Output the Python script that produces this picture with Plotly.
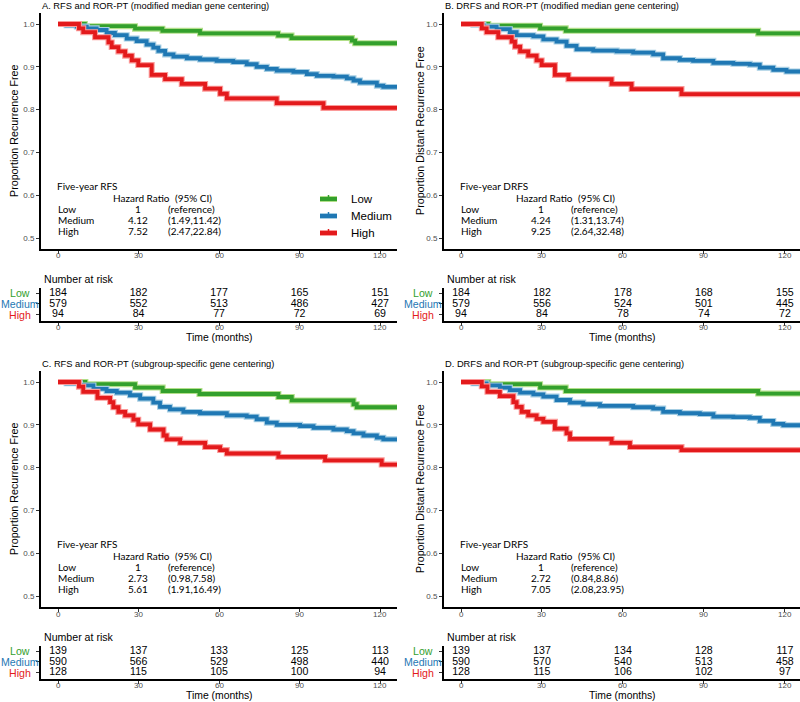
import plotly.graph_objects as go

W, H = 800, 702

# ---------------- data ----------------
# Panel A: RFS, modified median gene centering
A_low_t = [0, 10.0, 28.7, 38.9, 52.9, 82.0, 87.0, 109.5, 110.7, 126.3]
A_low_s = [1.0, 0.995, 0.989, 0.984, 0.978, 0.973, 0.967, 0.961, 0.955, 0.955]
A_med_t = [0, 3.2, 7.0, 10.7, 14.4, 18.1, 21.2, 25.6, 29.3, 33.0, 35.5, 37.4, 39.9, 43.0, 48.0, 52.9,
           59.1, 65.3, 70.3, 74.0, 77.8, 81.5, 87.7, 92.7, 96.4, 102.6, 107.6, 110.1, 112.5, 118.8, 121.2, 126.3]
A_med_s = [1.0, 0.997, 0.994, 0.990, 0.986, 0.979, 0.974, 0.966, 0.960, 0.952, 0.945, 0.937, 0.929, 0.924, 0.920, 0.917,
           0.914, 0.911, 0.906, 0.900, 0.895, 0.891, 0.888, 0.883, 0.879, 0.877, 0.873, 0.868, 0.863, 0.856, 0.853, 0.853]
A_high_t = [0, 7.8, 9.4, 13.8, 18.8, 20.0, 22.5, 25.0, 27.5, 29.9, 34.9, 39.9, 46.1, 54.8, 60.4, 62.9, 81.5, 98.9, 126.3]
A_high_s = [1.0, 0.990, 0.981, 0.969, 0.957, 0.946, 0.936, 0.926, 0.915, 0.904, 0.881, 0.871, 0.860, 0.849, 0.837, 0.826,
            0.815, 0.804, 0.804]

# Panel B: DRFS, modified median gene centering
B_low_t = [0, 10.1, 29.3, 38.8, 110.1, 125.6]
B_low_s = [1.0, 0.996, 0.990, 0.984, 0.978, 0.978]
B_med_t = [0, 4.6, 8.3, 13.2, 18.1, 20.6, 26.8, 30.5, 35.4, 39.1, 42.8, 49.0, 57.7, 63.8, 71.2, 74.9, 81.1, 86.0,
           93.5, 100.9, 107.0, 110.7, 115.7, 120.6, 125.6]
B_med_s = [1.0, 0.998, 0.994, 0.988, 0.981, 0.974, 0.971, 0.964, 0.959, 0.949, 0.941, 0.938, 0.936, 0.933, 0.929,
           0.920, 0.916, 0.914, 0.909, 0.907, 0.905, 0.898, 0.893, 0.889, 0.889]
B_high_t = [0, 7.7, 9.5, 13.8, 18.8, 20.0, 21.9, 24.9, 28.0, 29.9, 34.8, 39.8, 55.8, 63.2, 81.7, 125.6]
B_high_s = [1.0, 0.990, 0.981, 0.969, 0.959, 0.947, 0.936, 0.926, 0.915, 0.904, 0.881, 0.871, 0.860, 0.848, 0.836, 0.836]

# Panel C: RFS, subgroup-specific gene centering
C_low_t = [0, 10.2, 28.7, 39.0, 52.7, 82.1, 87.1, 110.1, 111.3, 126.3]
C_low_s = [1.0, 0.995, 0.987, 0.979, 0.972, 0.965, 0.957, 0.948, 0.941, 0.941]
C_med_t = [0, 3.2, 8.2, 13.2, 18.1, 21.9, 26.8, 30.6, 35.5, 38.0, 41.7, 46.7, 52.9, 62.9, 70.3, 74.0, 77.8, 81.5,
           90.2, 95.2, 102.6, 107.6, 110.1, 113.8, 118.8, 121.2, 126.3]
C_med_s = [1.0, 0.997, 0.992, 0.984, 0.979, 0.975, 0.969, 0.961, 0.952, 0.942, 0.936, 0.930, 0.927, 0.922, 0.919,
           0.913, 0.905, 0.900, 0.897, 0.893, 0.889, 0.885, 0.880, 0.875, 0.870, 0.866, 0.866]
C_high_t = [0, 7.8, 9.4, 14.7, 19.4, 20.6, 22.5, 25.0, 28.1, 29.9, 34.3, 39.3, 40.5, 45.5, 54.8, 60.4, 62.9, 82.1,
            99.5, 120.6, 126.3]
C_high_s = [1.0, 0.989, 0.977, 0.963, 0.953, 0.941, 0.930, 0.922, 0.912, 0.901, 0.889, 0.875, 0.866, 0.858, 0.848,
            0.841, 0.833, 0.825, 0.817, 0.807, 0.807]

# Panel D: DRFS, subgroup-specific gene centering
D_low_t = [0, 10.1, 29.3, 38.8, 110.1, 125.6]
D_low_s = [1.0, 0.995, 0.987, 0.979, 0.973, 0.973]
D_med_t = [0, 4.6, 9.5, 14.4, 18.1, 21.9, 26.8, 30.5, 35.4, 40.4, 45.3, 51.5, 63.8, 71.2, 74.9, 81.1, 88.5, 93.5,
           100.9, 107.0, 110.7, 115.7, 119.4, 125.6]
D_med_s = [1.0, 0.997, 0.992, 0.987, 0.981, 0.975, 0.971, 0.966, 0.958, 0.952, 0.948, 0.944, 0.941, 0.938, 0.930,
           0.927, 0.925, 0.919, 0.918, 0.916, 0.909, 0.902, 0.899, 0.899]
D_high_t = [0, 7.7, 9.8, 14.4, 19.4, 20.6, 22.5, 24.9, 28.0, 30.5, 34.8, 39.1, 40.4, 55.8, 62.6, 81.7, 125.6]
D_high_s = [1.0, 0.990, 0.977, 0.967, 0.953, 0.942, 0.930, 0.922, 0.914, 0.907, 0.891, 0.880, 0.867, 0.858, 0.848,
            0.841, 0.841]

# Number at risk
risk_times = [0, 30, 60, 90, 120]
A_risk_low = [184, 182, 177, 165, 151]
A_risk_med = [579, 552, 513, 486, 427]
A_risk_high = [94, 84, 77, 72, 69]
B_risk_low = [184, 182, 178, 168, 155]
B_risk_med = [579, 556, 524, 501, 445]
B_risk_high = [94, 84, 78, 74, 72]
C_risk_low = [139, 137, 133, 125, 113]
C_risk_med = [590, 566, 529, 498, 440]
C_risk_high = [128, 115, 105, 100, 94]
D_risk_low = [139, 137, 134, 128, 117]
D_risk_med = [590, 570, 540, 513, 458]
D_risk_high = [128, 115, 106, 102, 97]

# Hazard ratio tables
panel_titles = ["A. RFS and ROR-PT (modified median gene centering)",
                "B. DRFS and ROR-PT (modified median gene centering)",
                "C. RFS and ROR-PT (subgroup-specific gene centering)",
                "D. DRFS and ROR-PT (subgroup-specific gene centering)"]
y_titles = ["Proportion Recurrence Free", "Proportion Distant Recurrence Free",
            "Proportion Recurrence Free", "Proportion Distant Recurrence Free"]
table_heads = ["Five-year RFS", "Five-year DRFS", "Five-year RFS", "Five-year DRFS"]
hr_low = ["1", "1", "1", "1"]
ci_low = ["(reference)", "(reference)", "(reference)", "(reference)"]
hr_med = ["4.12", "4.24", "2.73", "2.72"]
ci_med = ["(1.49,11.42)", "(1.31,13.74)", "(0.98,7.58)", "(0.84,8.86)"]
hr_high = ["7.52", "9.25", "5.61", "7.05"]
ci_high = ["(2.47,22.84)", "(2.64,32.48)", "(1.91,16.49)", "(2.08,23.95)"]

groups = ["Low", "Medium", "High"]
x_ticks = [0, 30, 60, 90, 120]
x_ticklabels = ["0", "30", "60", "90", "120"]
y_ticks = [0.5, 0.6, 0.7, 0.8, 0.9, 1.0]
y_ticklabels = ["0.5", "0.6", "0.7", "0.8", "0.9", "1.0"]

# ---------------- styling ----------------
dark = {"Low": "#33a02c", "Medium": "#1f78b4", "High": "#e31a1c"}
light = {"Low": "#b2df8a", "Medium": "#a6cee3", "High": "#fb9a99"}
FONT = "Liberation Sans"
TFONT = "Lato"
TICKFONT = dict(size=8, color="#4d4d4d", family=FONT)

curves = [
    {"Low": (A_low_t, A_low_s), "Medium": (A_med_t, A_med_s), "High": (A_high_t, A_high_s)},
    {"Low": (B_low_t, B_low_s), "Medium": (B_med_t, B_med_s), "High": (B_high_t, B_high_s)},
    {"Low": (C_low_t, C_low_s), "Medium": (C_med_t, C_med_s), "High": (C_high_t, C_high_s)},
    {"Low": (D_low_t, D_low_s), "Medium": (D_med_t, D_med_s), "High": (D_high_t, D_high_s)},
]
risks = [
    {"Low": A_risk_low, "Medium": A_risk_med, "High": A_risk_high},
    {"Low": B_risk_low, "Medium": B_risk_med, "High": B_risk_high},
    {"Low": C_risk_low, "Medium": C_risk_med, "High": C_risk_high},
    {"Low": D_risk_low, "Medium": D_risk_med, "High": D_risk_high},
]
risk_row = {"Low": 3, "Medium": 2, "High": 1}

# pixel geometry of each panel (left, right, top, bottom, risk top, risk bottom, x range)
XR_L = [-6.34, 126.3]
XR_R = [-6.3, 125.6]
geoms = [
    dict(l=41, r=397, t=13, b=249, rt=288, rb=321, xr=XR_L),
    dict(l=444, r=800, t=13, b=249, rt=288, rb=321, xr=XR_R),
    dict(l=41, r=397, t=371, b=607, rt=646, rb=679, xr=XR_L),
    dict(l=444, r=800, t=371, b=607, rt=646, rb=679, xr=XR_R),
]
YR = [0.4743, 1.0257]


def px(x):
    return x / W


def py(y):
    return 1 - y / H


fig = go.Figure()
layout = {}
annotations = []
shapes = []

axis_common = dict(showgrid=False, zeroline=False, showline=True, linecolor="black", linewidth=2,
                   ticks="outside", ticklen=3, tickwidth=1, tickcolor="#333333", tickfont=TICKFONT)

for i in range(4):
    g = geoms[i]
    k = i + 1
    rk = i + 5
    xn = "x" if k == 1 else f"x{k}"
    yn = "y" if k == 1 else f"y{k}"
    xr_n = f"x{rk}"
    yr_n = f"y{rk}"
    layout["xaxis" if k == 1 else f"xaxis{k}"] = dict(
        axis_common, domain=[px(g["l"]), px(g["r"])], range=g["xr"], anchor=yn,
        tickvals=x_ticks, showticklabels=False)
    layout["yaxis" if k == 1 else f"yaxis{k}"] = dict(
        axis_common, domain=[py(g["b"]), py(g["t"])], range=YR, anchor=xn,
        tickvals=y_ticks, ticktext=y_ticklabels)
    layout[f"xaxis{rk}"] = dict(
        axis_common, domain=[px(g["l"]), px(g["r"])], range=g["xr"], anchor=yr_n,
        tickvals=x_ticks, showticklabels=False)
    layout[f"yaxis{rk}"] = dict(
        axis_common, domain=[py(g["rb"]), py(g["rt"])], range=[0.4, 3.5], anchor=xr_n,
        tickvals=[1, 2, 3], showticklabels=False)

    # x tick labels placed close to the axis lines (as in the reference)
    for tv, tl in zip(x_ticks, x_ticklabels):
        annotations.append(dict(x=tv, y=py(g["b"] + 7), xref=xn, yref="paper", text=tl, showarrow=False,
                                xanchor="center", yanchor="middle", font=TICKFONT))
        annotations.append(dict(x=tv, y=py(g["rb"] + 6), xref=xr_n, yref="paper", text=tl, showarrow=False,
                                xanchor="center", yanchor="middle", font=TICKFONT))

    # survival curves
    for grp in groups:
        t, s = curves[i][grp]
        fig.add_trace(go.Scatter(x=t, y=s, mode="lines", line=dict(shape="hv", width=6, color=light[grp]),
                                 xaxis=xn, yaxis=yn, showlegend=False, hoverinfo="skip"))
        fig.add_trace(go.Scatter(x=t, y=s, mode="lines", line=dict(shape="hv", width=3.8, color=dark[grp]),
                                 xaxis=xn, yaxis=yn, showlegend=False, name=grp))
    # risk table
    for grp in groups:
        vals = risks[i][grp]
        fig.add_trace(go.Scatter(x=risk_times, y=[risk_row[grp]] * len(vals), mode="text",
                                 text=[str(v) for v in vals],
                                 textfont=dict(size=10.6, color="black", family=FONT),
                                 xaxis=xr_n, yaxis=yr_n, showlegend=False, cliponaxis=False))
        annotations.append(dict(x=px(g["l"] - 21), y=risk_row[grp], xref="paper", yref=yr_n,
                                text=grp, showarrow=False, xanchor="center", yanchor="middle",
                                font=dict(size=10.6, color=dark[grp], family=FONT)))

    # title
    annotations.append(dict(x=px(g["l"] - 1), y=py(g["t"] - 7), xref="paper", yref="paper",
                            text=panel_titles[i], showarrow=False, xanchor="left", yanchor="middle",
                            font=dict(size=9.3, color="black", family=FONT)))
    # y title
    annotations.append(dict(x=px(g["l"] - (27 if i % 2 == 0 else 24)), y=py((g["t"] + g["b"]) / 2),
                            xref="paper", yref="paper", text=y_titles[i], textangle=-90,
                            showarrow=False, xanchor="center", yanchor="middle",
                            font=dict(size=10.7, color="black", family=FONT)))
    # number at risk
    annotations.append(dict(x=px(g["l"] + 1), y=py(g["rt"] - 9), xref="paper", yref="paper",
                            text="Number at risk", showarrow=False, xanchor="left", yanchor="middle",
                            font=dict(size=10.6, color="black", family=FONT)))
    # x title
    annotations.append(dict(x=60, y=py(g["rb"] + 16), xref=xr_n, yref="paper",
                            text="Time (months)", showarrow=False, xanchor="center", yanchor="middle",
                            font=dict(size=10.4, color="black", family=FONT)))
    # hazard ratio table
    tf = dict(size=10, color="black", family=TFONT)
    L, T = g["l"], g["t"]
    cells = [
        (L + 14, T + 173, table_heads[i], "left"),
        (L + 70, T + 185, "Hazard Ratio", "left"),
        (L + 132, T + 185, "(95% CI)", "left"),
        (L + 15, T + 196, "Low", "left"),
        (L + 97, T + 196, hr_low[i], "center"),
        (L + 125, T + 196, ci_low[i], "left"),
        (L + 15, T + 207, "Medium", "left"),
        (L + 97, T + 207, hr_med[i], "center"),
        (L + 125, T + 207, ci_med[i], "left"),
        (L + 15, T + 218, "High", "left"),
        (L + 97, T + 218, hr_high[i], "center"),
        (L + 125, T + 218, ci_high[i], "left"),
    ]
    for cx, cy, txt, anc in cells:
        annotations.append(dict(x=px(cx), y=py(cy), xref="paper", yref="paper", text=txt,
                                showarrow=False, xanchor=anc, yanchor="middle", font=tf))

# legend (panel A)
leg_y = {"Low": 199, "Medium": 216, "High": 233}
for grp in groups:
    yy = leg_y[grp]
    shapes.append(dict(type="line", xref="paper", yref="paper", x0=px(320), x1=px(337), y0=py(yy), y1=py(yy),
                       line=dict(color=light[grp], width=6)))
    shapes.append(dict(type="line", xref="paper", yref="paper", x0=px(320), x1=px(337), y0=py(yy), y1=py(yy),
                       line=dict(color=dark[grp], width=4)))
    shapes.append(dict(type="line", xref="paper", yref="paper", x0=px(328.5), x1=px(328.5), y0=py(yy - 4),
                       y1=py(yy + 1), line=dict(color=dark[grp], width=1.5)))
    annotations.append(dict(x=px(349), y=py(yy), xref="paper", yref="paper", text=grp, showarrow=False,
                            xanchor="left", yanchor="middle", font=dict(size=11.5, color="black", family=FONT)))

fig.update_layout(**layout)
fig.update_layout(width=W, height=H, margin=dict(l=0, r=0, t=0, b=0), showlegend=False,
                  plot_bgcolor="white", paper_bgcolor="white",
                  annotations=annotations, shapes=shapes)
fig.write_html("out.html", config={"displayModeBar": False},
               post_script="document.body.style.margin='0px';")
